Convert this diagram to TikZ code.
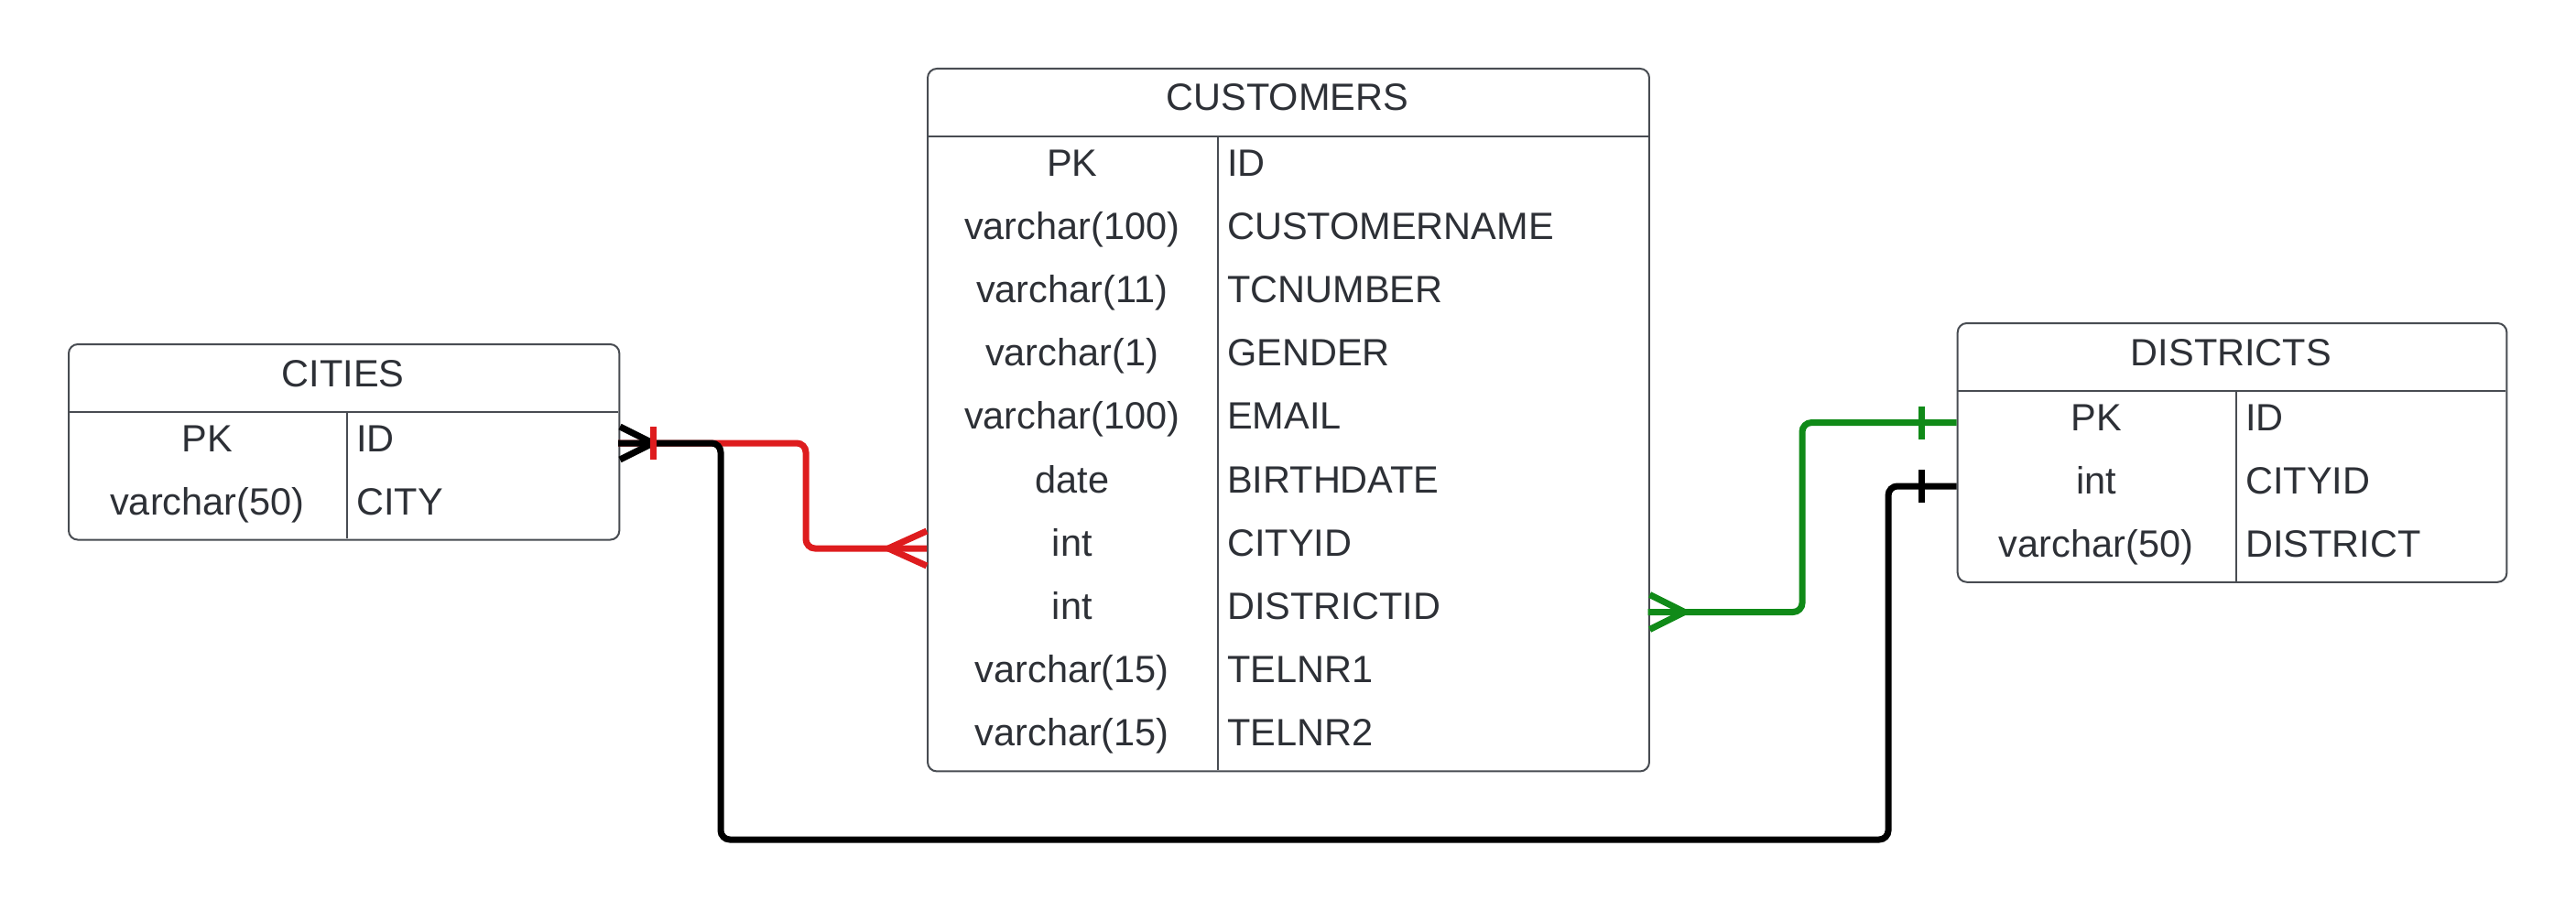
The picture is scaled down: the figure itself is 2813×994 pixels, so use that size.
\documentclass[tikz,border=0pt]{standalone}
\usepackage{fontspec}
\setmainfont{Liberation Sans}
\usetikzlibrary{calc}
\definecolor{txt}{RGB}{45,48,54}
\definecolor{bord}{RGB}{72,76,82}
\definecolor{lred}{RGB}{222,28,30}
\definecolor{lgreen}{RGB}{16,138,24}
\definecolor{lblack}{RGB}{0,0,0}
\begin{document}
\begin{tikzpicture}[x=0.01cm,y=-0.01cm,
  tbl/.style={draw=bord, line width=0.02cm, rounded corners=0.1cm, rectangle, inner sep=0pt, anchor=north west},
  sep/.style={draw=bord, line width=0.02cm},
  lbl/.style={font=\fontsize{11.8}{14}\selectfont, text=txt, inner sep=0pt},
  hdr/.style={lbl, anchor=base},
  typ/.style={lbl, anchor=base},
  fld/.style={lbl, anchor=base west},
  rel/.style={line width=0.07cm, rounded corners=0.1cm},
  tick/.style={line width=0.07cm}
]
\useasboundingbox (0,0) rectangle (2813,994);

% ---------- CITIES ----------
\node[tbl, minimum width=6.01cm, minimum height=2.134cm] (cities) at (74,375) {};
\draw[sep] (74,450) -- (675,450);
\draw[sep] (378.5,450) -- (378.5,588.4);
\node[hdr] (cities-t) at (374.5,422) {CITIES};
\node[typ] (ci-t1) at (226.3,493.1) {PK};
\node[fld] (ci-f1) at (388.5,493.1) {ID};
\node[typ] (ci-t2) at (226.3,562.3) {varchar(50)};
\node[fld] (ci-f2) at (388.5,562.3) {CITY};

% ---------- CUSTOMERS ----------
\node[tbl, minimum width=7.875cm, minimum height=7.67cm] (customers) at (1012,74) {};
\draw[sep] (1012,149) -- (1799.5,149);
\draw[sep] (1329.5,149) -- (1329.5,841);
\node[hdr] (customers-t) at (1405.7,120.6) {CUSTOMERS};
\foreach \t/\f [count=\i from 0] in {PK/ID, varchar(100)/CUSTOMERNAME, varchar(11)/TCNUMBER,
  varchar(1)/GENDER, varchar(100)/EMAIL, date/BIRTHDATE, int/CITYID, int/DISTRICTID,
  varchar(15)/TELNR1, varchar(15)/TELNR2} {
  \node[typ] (cu-t\i) at (1170.7,192.1+69.2*\i) {\t};
  \node[fld] (cu-f\i) at (1339.5,192.1+69.2*\i) {\f};
}

% ---------- DISTRICTS ----------
\node[tbl, minimum width=5.993cm, minimum height=2.826cm] (districts) at (2136.7,352) {};
\draw[sep] (2136.7,427) -- (2736,427);
\draw[sep] (2441.6,427) -- (2441.6,634.6);
\node[hdr] (districts-t) at (2436.3,399) {DISTRICTS};
\foreach \t/\f [count=\i from 0] in {PK/ID, int/CITYID, varchar(50)/DISTRICT} {
  \node[typ] (di-t\i) at (2289,470.1+69.2*\i) {\t};
  \node[fld] (di-f\i) at (2451.6,470.1+69.2*\i) {\f};
}

% ---------- anchor points ----------
\coordinate (ci-id) at (675,484);
\coordinate (cu-cityid) at (1012,599);
\coordinate (cu-distid) at (1799.5,668.5);
\coordinate (di-id) at (2136.7,461.6);
\coordinate (di-cityid) at (2136.7,531);
\coordinate (bot) at (2062,917);

% ---------- red: CITIES.ID -> CUSTOMERS.CITYID ----------
\draw[rel, lred] (ci-id) -- ++(205,0) |- (cu-cityid);
\draw[tick, lred] ($(cu-cityid)+(0,-19)$) -- ($(cu-cityid)+(-42,0)$);
\draw[tick, lred] ($(cu-cityid)+(0,19)$) -- ($(cu-cityid)+(-42,0)$);

% ---------- black: CITIES.ID -> DISTRICTS.CITYID ----------
\draw[rel, lblack] (ci-id) -- ++(112,0) |- (bot) |- (di-cityid);
\draw[tick, lblack] ($(ci-id)+(2,-18)$) -- ($(ci-id)+(38,0)$);
\draw[tick, lblack] ($(ci-id)+(2,18)$) -- ($(ci-id)+(38,0)$);
\draw[tick, lred] ($(ci-id)+(38,-18)$) -- ($(ci-id)+(38,18)$);
\draw[tick, lblack] ($(di-cityid)+(-38,-18)$) -- ($(di-cityid)+(-38,18)$);

% ---------- green: CUSTOMERS.DISTRICTID -> DISTRICTS.ID ----------
\draw[rel, lgreen] (cu-distid) -- ++(168.5,0) |- (di-id);
\draw[tick, lgreen] ($(cu-distid)+(2,-19)$) -- ($(cu-distid)+(40,0)$);
\draw[tick, lgreen] ($(cu-distid)+(2,19)$) -- ($(cu-distid)+(40,0)$);
\draw[tick, lgreen] ($(di-id)+(-38,-18)$) -- ($(di-id)+(-38,18)$);
\end{tikzpicture}
\end{document}
